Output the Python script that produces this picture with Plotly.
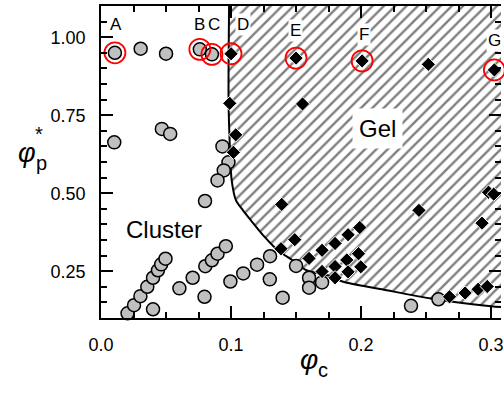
import plotly.graph_objects as go

# ---------------- data ----------------
cluster_phic = [0.0107, 0.0305, 0.050, 0.076, 0.0853, 0.0102, 0.0468, 0.0532, 0.0934, 0.098,
                0.0944, 0.0896, 0.080, 0.0204, 0.0254, 0.0303, 0.0356, 0.040, 0.0438, 0.0463,
                0.0496, 0.040, 0.0603, 0.0705, 0.0796, 0.0802, 0.0853, 0.0896, 0.096, 0.0995,
                0.1094, 0.120, 0.130, 0.1298, 0.1397, 0.150, 0.160, 0.160, 0.170, 0.2384, 0.2595]
cluster_phip = [0.950, 0.963, 0.947, 0.961, 0.945, 0.663, 0.706, 0.690, 0.650, 0.599,
                0.573, 0.541, 0.475, 0.115, 0.141, 0.170, 0.200, 0.229, 0.253, 0.272,
                0.290, 0.128, 0.195, 0.229, 0.168, 0.266, 0.285, 0.306, 0.330, 0.217,
                0.243, 0.271, 0.298, 0.224, 0.165, 0.267, 0.229, 0.197, 0.214, 0.139, 0.160]

gel_phic = [0.100, 0.150, 0.2008, 0.2517, 0.3025, 0.099, 0.155, 0.1036, 0.1018, 0.139,
            0.1384, 0.149, 0.160, 0.170, 0.170, 0.180, 0.180, 0.180, 0.190, 0.199,
            0.189, 0.198, 0.190, 0.1998, 0.2445, 0.293, 0.298, 0.302, 0.268, 0.280,
            0.290, 0.297]
gel_phip = [0.947, 0.933, 0.924, 0.913, 0.895, 0.788, 0.786, 0.687, 0.631, 0.464,
            0.322, 0.351, 0.291, 0.317, 0.249, 0.339, 0.265, 0.229, 0.367, 0.390,
            0.286, 0.306, 0.248, 0.264, 0.445, 0.404, 0.503, 0.497, 0.168, 0.180,
            0.192, 0.201]

boundary_phic = [0.0985, 0.0981, 0.0992, 0.1005, 0.1038, 0.1092, 0.1153, 0.1260, 0.1359,
                 0.1473, 0.1580, 0.1748, 0.1863, 0.216, 0.2542, 0.300, 0.3076]
boundary_phip = [1.100, 0.796, 0.637, 0.541, 0.477, 0.445, 0.413, 0.359, 0.317,
                 0.285, 0.253, 0.236, 0.216, 0.192, 0.162, 0.138, 0.135]

marked_labels = ["A", "B", "C", "D", "E", "F", "G"]
marked_phic = [0.0107, 0.076, 0.0853, 0.100, 0.150, 0.2008, 0.3025]
marked_phip = [0.950, 0.961, 0.945, 0.947, 0.933, 0.924, 0.895]
label_phic = [0.0115, 0.0756, 0.087, 0.1092, 0.1496, 0.2023, 0.3023]
label_phip = [1.042, 1.042, 1.042, 1.042, 1.023, 1.010, 0.989]

x_tickvals = [0.0, 0.1, 0.2, 0.3]
x_ticktext = ["0.0", "0.1", "0.2", "0.3"]
y_tickvals = [0.25, 0.50, 0.75, 1.00]
y_ticktext = ["0.25", "0.50", "0.75", "1.00"]

FONT = "Liberation Sans, Arial, sans-serif"
X_RANGE = [0, 0.3076]
Y_RANGE = [0.1, 1.1]

fig = go.Figure()

# hatched gel region
fill_x = [boundary_phic[0]] + boundary_phic + [0.40, 0.40, boundary_phic[0]]
fill_y = [1.30] + boundary_phip + [boundary_phip[-1], 1.30, 1.30]
fig.add_trace(go.Scatter(
    x=fill_x, y=fill_y, mode="lines", fill="toself",
    fillcolor="rgba(0,0,0,0)",
    fillpattern=dict(shape="/", fgcolor="black", bgcolor="white", size=8, solidity=0.3),
    line=dict(width=0), hoverinfo="skip", showlegend=False))

# boundary curve
fig.add_trace(go.Scatter(
    x=boundary_phic, y=boundary_phip, mode="lines",
    line=dict(color="black", width=2, shape="spline", smoothing=0.8),
    showlegend=False))

# cluster points
fig.add_trace(go.Scatter(
    x=cluster_phic, y=cluster_phip, mode="markers", cliponaxis=False,
    marker=dict(symbol="circle", size=13, color="#c0c0c0",
                line=dict(color="black", width=1.5)),
    showlegend=False))

# gel points
fig.add_trace(go.Scatter(
    x=gel_phic, y=gel_phip, mode="markers", cliponaxis=False,
    marker=dict(symbol="diamond", size=11, color="black",
                line=dict(color="white", width=1)),
    showlegend=False))

# red highlight circles
fig.add_trace(go.Scatter(
    x=marked_phic, y=marked_phip, mode="markers", cliponaxis=False,
    marker=dict(symbol="circle-open", size=21, color="red", line=dict(width=1.8)),
    showlegend=False))

# invisible trace to anchor the right-hand tick axis
fig.add_trace(go.Scatter(x=[X_RANGE[0]], y=[Y_RANGE[0]], yaxis="y2", mode="markers",
                         marker=dict(opacity=0), hoverinfo="skip", showlegend=False))

for lab, lx, ly in zip(marked_labels, label_phic, label_phip):
    fig.add_annotation(x=lx, y=ly, xref="x", yref="y", text=lab, showarrow=False,
                       font=dict(family=FONT, size=17, color="black"),
                       bgcolor="white", borderpad=1)

fig.add_annotation(x=0.2130, y=0.707, xref="x", yref="y", text="Gel", showarrow=False,
                   font=dict(family=FONT, size=24, color="black"),
                   bgcolor="white", borderpad=6)
fig.add_annotation(x=0.0481, y=0.384, xref="x", yref="y", text="Cluster", showarrow=False,
                   font=dict(family=FONT, size=24, color="black"))

# axis titles
def px2paper(px, py):
    return (px - 101) / 403.0, (318.3 - py) / 312.6

ax, ay = px2paper(311, 376)
fig.add_annotation(x=ax, y=ay, xref="paper", yref="paper", text="<i>φ</i>", showarrow=False,
                   font=dict(family=FONT, size=28, color="black"), borderpad=0)
ax, ay = px2paper(325, 382)
fig.add_annotation(x=ax, y=ay, xref="paper", yref="paper", text="c", showarrow=False,
                   font=dict(family=FONT, size=20, color="black"), borderpad=0)
ax, ay = px2paper(16, 153)
fig.add_annotation(x=ax, y=ay, xref="paper", yref="paper", text="<i>φ</i>", showarrow=False,
                   font=dict(family=FONT, size=27, color="black"), borderpad=0)
ax, ay = px2paper(35, 163)
fig.add_annotation(x=ax, y=ay, xref="paper", yref="paper", text="p", showarrow=False,
                   font=dict(family=FONT, size=20, color="black"), borderpad=0)
ax, ay = px2paper(34, 134)
fig.add_annotation(x=ax, y=ay, xref="paper", yref="paper", text="*", showarrow=False,
                   font=dict(family=FONT, size=20, color="black"), borderpad=0)

fig.update_xaxes(
    range=X_RANGE, tickvals=x_tickvals, ticktext=x_ticktext,
    ticks="inside", ticklen=12, tickwidth=1.5, tickcolor="black",
    showline=True, linecolor="black", linewidth=1.5, mirror="ticks",
    showgrid=False, zeroline=False, ticklabelstandoff=10, ticklabeloverflow="allow",
    tickfont=dict(family=FONT, size=18, color="black"),
    minor=dict(dtick=0.025, tick0=0, ticks="inside", ticklen=6, tickwidth=1.5,
               tickcolor="black", showgrid=False))

fig.update_layout(
    yaxis=dict(
        range=Y_RANGE, tickvals=y_tickvals, ticktext=y_ticktext,
        ticks="inside", ticklen=12, tickwidth=1.5, tickcolor="black",
        showline=True, linecolor="black", linewidth=1.5, mirror=False,
        showgrid=False, zeroline=False, ticklabelstandoff=10,
        tickfont=dict(family=FONT, size=18, color="black"),
        minor=dict(dtick=0.05, tick0=0, ticks="inside", ticklen=6, tickwidth=1.5,
                   tickcolor="black", showgrid=False)),
    yaxis2=dict(
        range=Y_RANGE, overlaying="y", side="right", tickvals=y_tickvals,
        showticklabels=False, ticks="inside", ticklen=12, tickwidth=1.5, tickcolor="black",
        showline=False, showgrid=False, zeroline=False,
        minor=dict(dtick=0.05, tick0=0, ticks="inside", ticklen=6, tickwidth=1.5,
                   tickcolor="black", showgrid=False)),
    width=504, height=394,
    margin=dict(l=101, r=0, t=6, b=76),
    plot_bgcolor="white", paper_bgcolor="white",
    showlegend=False)

fig.write_html("out.html")
